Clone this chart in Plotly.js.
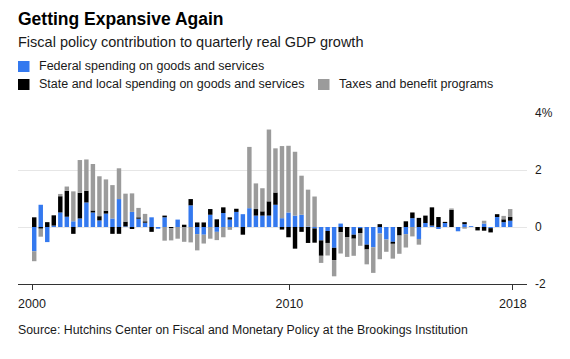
<!DOCTYPE html>
<html>
<head>
<meta charset="utf-8">
<script src="https://cdn.plot.ly/plotly-3.0.1.min.js"></script>
<style>
html, body { margin: 0; padding: 0; background: #fff; }
#chart { width: 570px; height: 359px; }
</style>
</head>
<body>
<div id="chart"></div>
<script>
// Quarterly contributions (percentage points), starting 2000 Q1
const startYear = 2000;
const federal = [
  -0.85, 0.78, -0.53, 0.05, 0.51, 0.36, 0.20, 0.30, 0.86, 0.51,
   0.23, 0.47, 0.30, 0.98, 0.02, 0.53, 0.29, 0.15, 0.34, -0.06,
   0.34, 0.00, 0.26, 0.00, 0.76, -0.25, -0.27, 0.43, -0.17, 0.49,
   0.26, 0.53, 0.45, 0.66, 0.40, 0.40, 0.40, 0.78, 0.31, 0.51,
   0.40, 0.43, 0.02, -0.05, -0.47, -0.14, -0.73, 0.12, 0.00, -0.27,
  -0.04, -0.62, -0.71, -0.23, -0.44, -0.52, 0.00, -0.25, 0.31, -0.42,
   0.14, 0.05, -0.07, 0.14, 0.00, -0.15, 0.10, 0.03, 0.00, 0.12,
  -0.04, 0.35, 0.17, 0.22
];
const stateLocal = [
   0.34, -0.06, 0.17, 0.36, 0.57, 0.91, -0.24, 0.90, 0.41, 0.07,
   0.15, 0.10, -0.24, -0.24, 0.17, -0.07, 0.05, 0.05, -0.17, 0.00,
   0.06, -0.04, 0.00, 0.08, 0.22, 0.16, 0.16, 0.20, 0.27, 0.20,
   0.08, 0.11, -0.27, 0.00, 0.23, 0.15, 0.50, 0.43, -0.09, -0.36,
  -0.76, -0.17, -0.56, -0.50, -0.54, -0.42, -0.43, -0.18, -0.35, -0.14,
  -0.17, -0.17, 0.00, 0.10, 0.00, -0.07, -0.30, 0.20, 0.20, 0.32,
   0.26, 0.64, 0.35, 0.04, 0.60, 0.00, 0.07, 0.00, -0.12, -0.13,
  -0.15, 0.10, 0.10, 0.13
];
const taxesBenefits = [
  -0.35, -0.28, 0.00, 0.00, 0.08, 0.15, 1.05, 1.15, 1.10, 1.63,
   1.40, 1.10, 1.17, 1.08, 0.98, 0.65, 0.33, 0.26, 0.00, 0.00,
  -0.48, -0.43, -0.41, -0.52, -0.54, -0.57, -0.31, -0.41, -0.29, -0.36,
  -0.10, 0.00, 0.00, 2.15, 0.90, 0.81, 2.52, 1.55, 2.53, 2.34,
   2.24, 1.37, 1.29, 1.07, -0.25, -0.44, -0.57, -0.75, -0.70, -0.60,
  -0.45, -0.52, -0.90, -0.90, -0.43, -0.52, -0.64, -0.47, -0.33, -0.20,
   0.00, 0.00, 0.00, 0.00, 0.05, 0.00, -0.06, 0.00, 0.00, 0.10,
   0.00, 0.00, 0.12, 0.28
];
const seriesNames = [
  'Federal spending on goods and services',
  'State and local spending on goods and services',
  'Taxes and benefit programs'
];
const seriesColors = ['#3479ef', '#000000', '#9b9b9b'];
const xTickLabels = ['2000', '2010', '2018'];
const yTickValues = [-2, 0, 2, 4];
const yTickLabels = ['-2', '0', '2', '4%'];

// quarter positions (decimal years)
const quarters = federal.map((_, i) => startYear + i * 0.25);
const barWidth = 0.17;

const traces = [federal, stateLocal, taxesBenefits].map((vals, k) => ({
  type: 'bar',
  x: quarters,
  y: vals,
  name: seriesNames[k],
  width: barWidth,
  offset: 0,
  marker: { color: seriesColors[k], line: { width: 0 } },
  hoverinfo: 'skip'
}));

// pixel helpers for layout decorations
const L = 18, R = 43, T = 113, B = 75, W = 570, H = 359;
const pw = W - L - R, ph = H - T - B;
const px = v => (v - L) / pw;
const py = v => (H - B - v) / ph;
const font = '"Liberation Sans", Arial, Helvetica, sans-serif';

function label(text, x, y, size, opts) {
  return Object.assign({
    text: text, xref: 'paper', yref: 'paper', x: px(x), y: py(y),
    xanchor: 'left', yanchor: 'middle', showarrow: false,
    font: { family: font, size: size, color: '#1a1a1a' }
  }, opts || {});
}
function square(x, y, color) {
  return {
    type: 'rect', xref: 'paper', yref: 'paper',
    x0: px(x), x1: px(x + 11.5), y0: py(y + 11), y1: py(y),
    fillcolor: color, line: { width: 0 }
  };
}

const layout = {
  width: W, height: H,
  margin: { l: L, r: R, t: T, b: B, pad: 0 },
  paper_bgcolor: '#fff', plot_bgcolor: '#fff',
  barmode: 'relative',
  showlegend: false,
  font: { family: font, color: '#1a1a1a' },
  xaxis: {
    type: 'linear',
    range: [1999.463, 2018.98],
    tickvals: [2000, 2009.87, 2018.44],
    ticktext: xTickLabels,
    ticks: 'outside', ticklen: 5, tickcolor: '#333', tickwidth: 1,
    showline: true, linecolor: '#333', linewidth: 1,
    showgrid: false, zeroline: false,
    tickfont: { family: font, size: 12.5, color: '#1a1a1a' },
    ticklabelstandoff: 3,
    fixedrange: true
  },
  yaxis: {
    side: 'right',
    range: [-2, 4],
    tickvals: yTickValues,
    ticktext: yTickLabels,
    ticks: '',
    showgrid: true, gridcolor: '#e6e6e6', gridwidth: 1,
    zeroline: false, showline: false,
    tickfont: { family: font, size: 12, color: '#1a1a1a' },
    ticklabelstandoff: 7,
    fixedrange: true
  },
  annotations: [
    label('<b>Getting Expansive Again</b>', 15.5, 19.3, 17.5, { font: { family: font, size: 17.5, color: '#000' } }),
    label('Fiscal policy contribution to quarterly real GDP growth', 16, 42.3, 14.5),
    label(seriesNames[0], 36.5, 66, 12.5),
    label(seriesNames[1], 36.5, 84, 12.5),
    label(seriesNames[2], 336.5, 84, 12.5),
    label('Source: Hutchins Center on Fiscal and Monetary Policy at the Brookings Institution', 15.5, 330, 12.3)
  ],
  shapes: [
    square(18, 61, seriesColors[0]),
    square(18, 79, seriesColors[1]),
    square(318, 79, seriesColors[2])
  ]
};

Plotly.newPlot('chart', traces, layout, { displayModeBar: false, staticPlot: true });
</script>
</body>
</html>
